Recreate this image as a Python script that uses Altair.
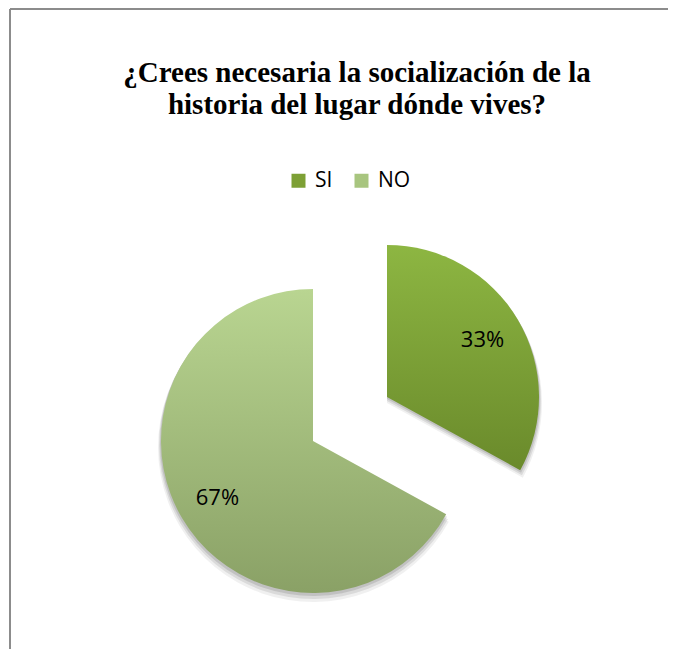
import altair as alt
import pandas as pd

# ---- data ----
categories = ["SI", "NO"]
values = [33, 67]
labels = ["33%", "67%"]
order = [1, 2]
title_lines = [
    "¿Crees necesaria la socialización de la",
    "historia del lugar dónde vives?",
]

df = pd.DataFrame({"cat": categories, "val": values, "label": labels, "idx": order})

W, H = 658, 640
R = 152
centers = {"SI": (377, 388), "NO": (303, 432)}
grads = {
    "SI": ("#8DB642", "#6A8A2B"),
    "NO": ("#B9D591", "#8AA166"),
}

base = alt.Chart(df)
theta = alt.Theta("val:Q", stack=True)
order_enc = alt.Order("idx:Q")


def show(cat, op=1.0):
    return alt.condition(f"datum.cat == '{cat}'", alt.value(op), alt.value(0))


layers = []

# border lines of the chart frame (left and top only), kept inside the canvas
layers.append(
    base.mark_rule(color="#8c8c8c", strokeWidth=2).encode(
        x=alt.value(0), y=alt.value(0), y2=alt.value(H)
    )
)
layers.append(
    base.mark_rule(color="#8c8c8c", strokeWidth=2).encode(
        x=alt.value(0), x2=alt.value(W), y=alt.value(0)
    )
)

# soft shadows
for cat in categories:
    cx, cy = centers[cat]
    for dy, dr, op in [(2, 1, 0.11), (4, 2, 0.09), (6, 3, 0.06)]:
        layers.append(
            base.mark_arc(radius=R + dr, fill="#000000").encode(
                theta=theta, order=order_enc,
                x=alt.value(cx), y=alt.value(cy + dy),
                opacity=show(cat, op),
            )
        )

# slices with vertical gradients
for cat in categories:
    cx, cy = centers[cat]
    top, bot = grads[cat]
    g = alt.LinearGradient(
        gradient="linear",
        stops=[alt.GradientStop(color=top, offset=0), alt.GradientStop(color=bot, offset=1)],
        x1=0, x2=0, y1=0, y2=1,
    )
    layers.append(
        base.mark_arc(radius=R, fill=g).encode(
            theta=theta, order=order_enc,
            x=alt.value(cx), y=alt.value(cy),
            opacity=show(cat),
        )
    )

# legend-only layer (zero radius)
layers.append(
    base.mark_arc(radius=0).encode(
        theta=theta, order=order_enc,
        x=alt.value(centers["SI"][0]), y=alt.value(centers["SI"][1]),
        color=alt.Color(
            "cat:N",
            scale=alt.Scale(domain=categories, range=["#7DA035", "#A8C57F"]),
            legend=alt.Legend(
                title=None, orient="none", legendX=278, legendY=161,
                direction="horizontal", symbolType="square", symbolSize=196,
                symbolOpacity=1, symbolStrokeWidth=0,
                labelFont="Open Sans", labelFontSize=21, labelColor="#000000",
                labelOffset=6, columnPadding=18, padding=0,
            ),
        ),
    )
)

# percentage labels
for cat in categories:
    cx, cy = centers[cat]
    layers.append(
        base.mark_text(radius=111, font="Open Sans", fontSize=22, color="#000000",
                       align="center", baseline="middle").encode(
            theta=theta, order=order_enc,
            x=alt.value(cx), y=alt.value(cy),
            text="label:N",
            opacity=show(cat),
        )
    )

# title lines
for line, yy in zip(title_lines, [73, 105]):
    layers.append(
        alt.Chart(pd.DataFrame({"t": [line]})).mark_text(
            font="Liberation Serif", fontWeight="bold", fontSize=29,
            color="#000000", align="center", baseline="alphabetic",
        ).encode(x=alt.value(347), y=alt.value(yy), text="t:N")
    )

chart = alt.layer(*layers).properties(
    width=W, height=H,
    padding={"left": 2, "top": 1, "right": 0, "bottom": 0},
    autosize=alt.AutoSizeParams(type="none"),
    background="white",
    view=alt.ViewBackground(stroke="transparent", strokeWidth=0),
).configure_view(stroke="transparent", strokeWidth=0)

chart.save("out.html", embed_options={"renderer": "svg", "actions": False})
